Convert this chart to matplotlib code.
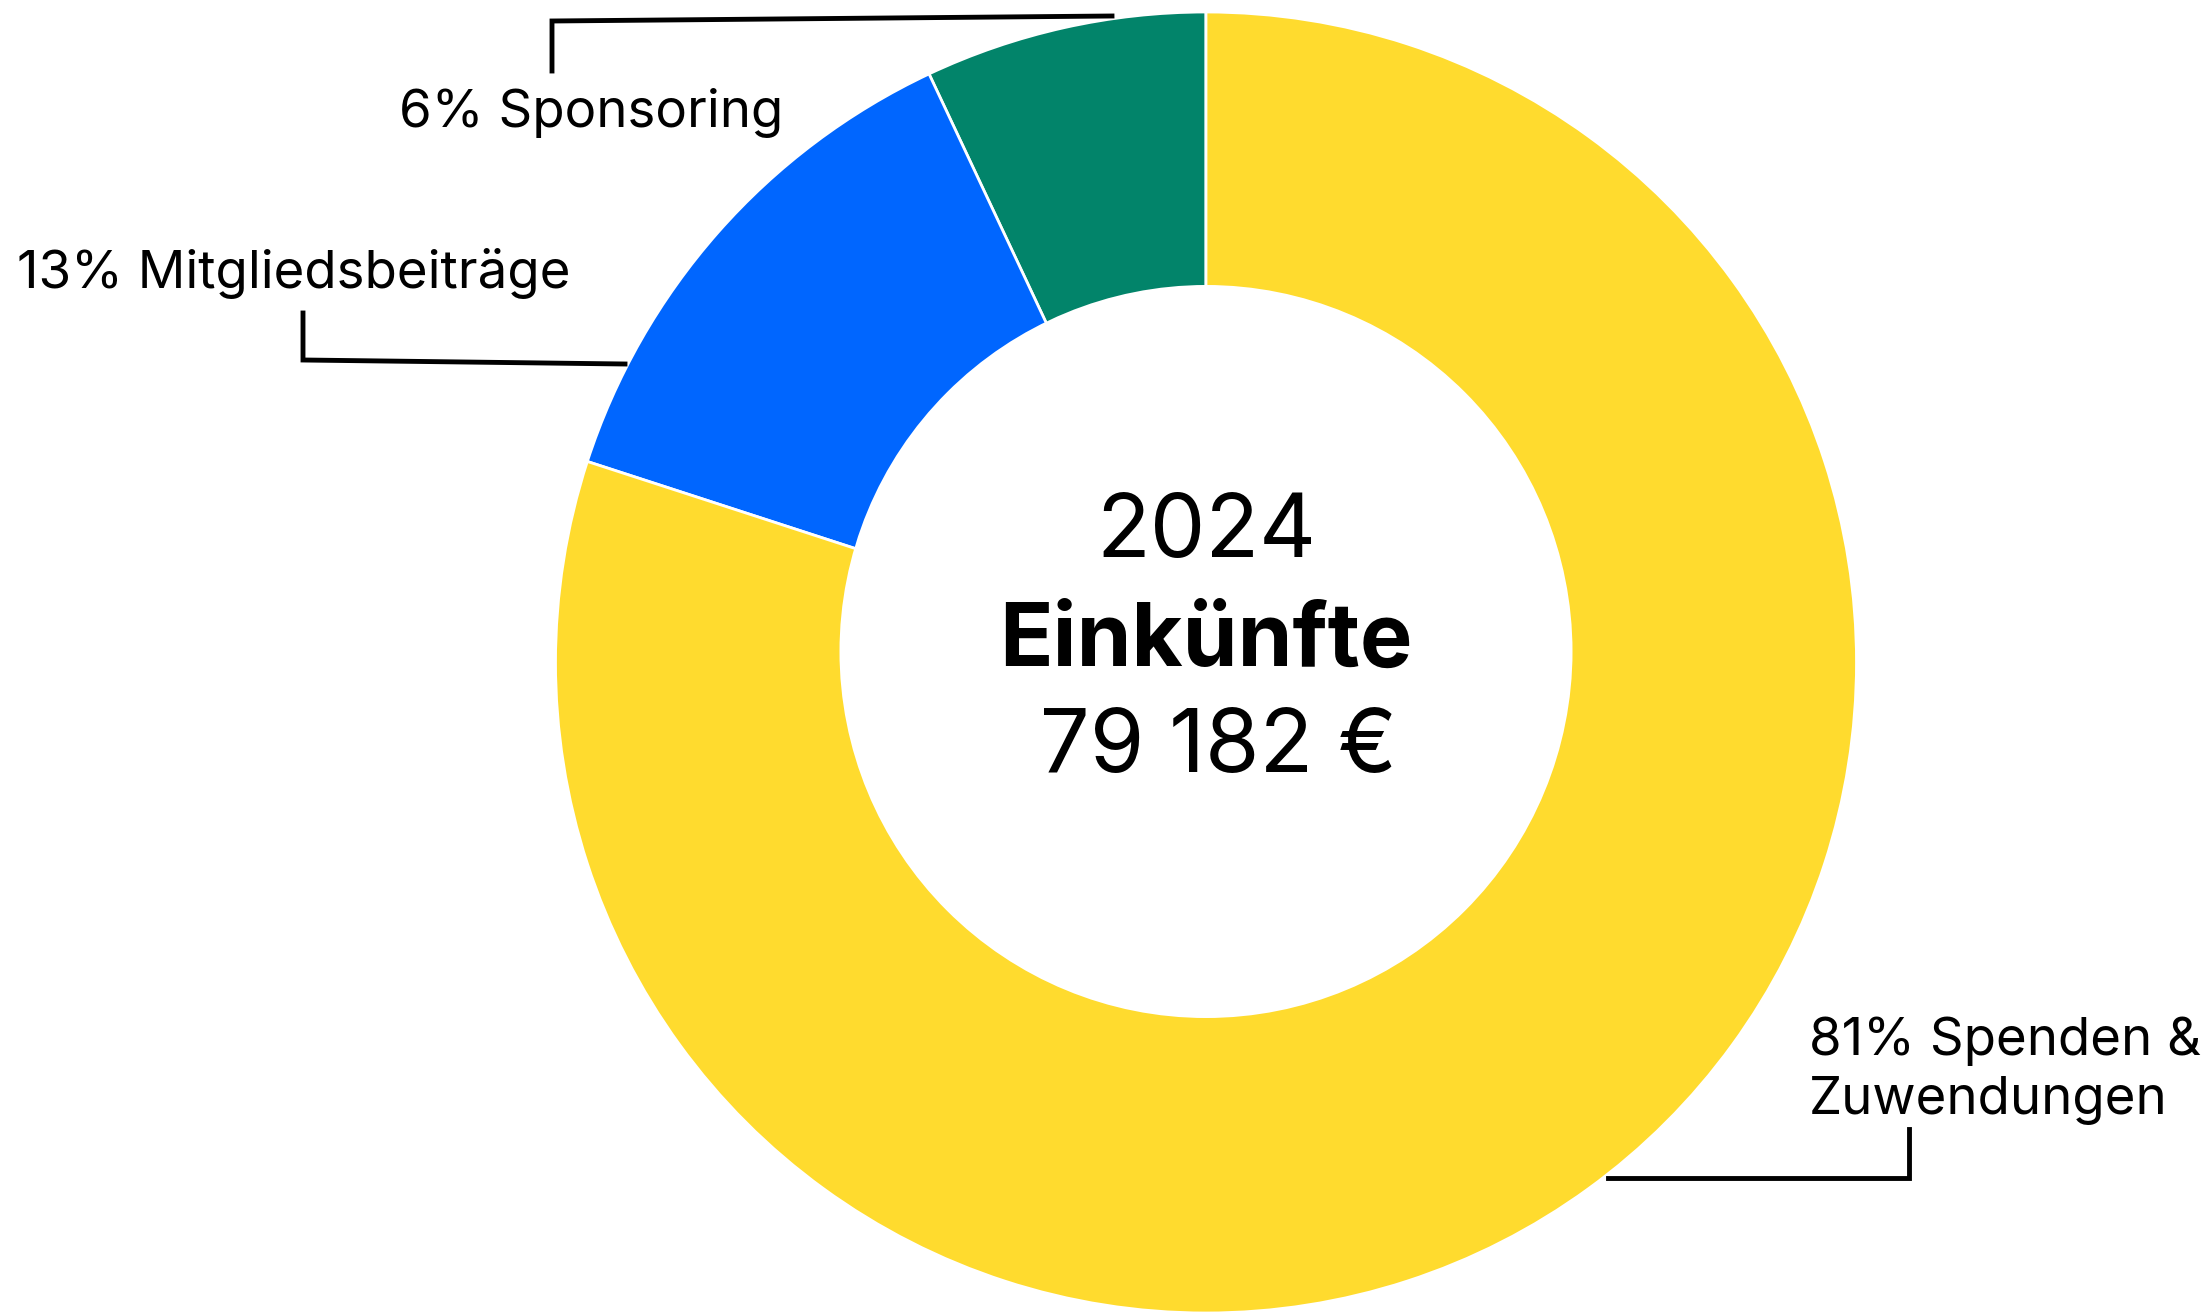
import matplotlib.pyplot as plt
from matplotlib.patches import Circle

# Einkünfte 2024 - donut chart
W, H = 2212, 1316

categories = ['Sponsoring', 'Mitgliedsbeiträge', 'Spenden & Zuwendungen']
label_texts = ['6% Sponsoring', '13% Mitgliedsbeiträge', '81% Spenden &\nZuwendungen']
shares = [7.0, 13.0, 80.0]  # drawn shares
colors = ['#02846A', '#0066FF', '#FFDB2E']

year = '2024'
title = 'Einkünfte'
total = ' 79 182 €'

plt.rcParams['font.family'] = ['Inter', 'DejaVu Sans']

fig = plt.figure(figsize=(W / 100, H / 100), dpi=100)
ax = fig.add_axes([0, 0, 1, 1])

cx, cy = 1206, 653.5
R = 650.5
# hole is slightly off-centre in the original artwork
hole_cy, r = 664.5, 366.5
ax.pie(shares, colors=colors, startangle=90, counterclock=True,
       center=(cx, cy), radius=R,
       wedgeprops=dict(edgecolor='white', linewidth=2))
ax.add_patch(Circle((cx, hole_cy), r, facecolor='white', edgecolor='none', zorder=3))
ax.set_xlim(0, W)
ax.set_ylim(0, H)
ax.set_aspect('equal')
ax.axis('off')

# centre text
ax.text(cx, 759, year, ha='center', va='baseline', fontsize=63.5, zorder=4)
ax.text(cx, 650, title, ha='center', va='baseline', fontsize=63.5, fontweight='bold', zorder=4)
ax.text(cx, 544, total, ha='center', va='baseline', fontsize=63.5, zorder=4)

# labels with leader lines
lw = 3.5
ax.text(399, 1189, label_texts[0], ha='left', va='baseline', fontsize=38)
ax.plot([1112, 552, 552], [1300, 1295, 1245], color='black', lw=lw, solid_joinstyle='miter')

ax.text(17, 1028, label_texts[1], ha='left', va='baseline', fontsize=38)
ax.plot([625, 303, 303], [952, 956, 1003], color='black', lw=lw, solid_joinstyle='miter')

ax.text(1809, 202, label_texts[2], ha='left', va='baseline', fontsize=38, linespacing=1.25)
ax.plot([1608, 1909, 1909], [138, 138, 187], color='black', lw=lw, solid_joinstyle='miter')

fig.savefig('out.png', dpi=100, facecolor='white')
